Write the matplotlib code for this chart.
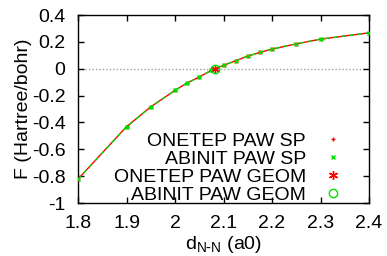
import matplotlib
matplotlib.use("Agg")
import matplotlib.pyplot as plt

plt.rcParams['font.family'] = ['Liberation Sans', 'DejaVu Sans']

# bond length (a0) and force (Hartree/bohr)
d_sp = [1.8, 1.9, 1.95, 2.0, 2.025, 2.05, 2.075, 2.1, 2.125, 2.15, 2.175, 2.2, 2.25, 2.3, 2.4]
f_onetep_sp = [-0.822, -0.432, -0.284, -0.161, -0.106, -0.062, -0.012, 0.025, 0.059, 0.094,
               0.121, 0.146, 0.185, 0.220, 0.267]
f_abinit_sp = [-0.822, -0.432, -0.284, -0.161, -0.106, -0.062, -0.012, 0.025, 0.059, 0.094,
               0.121, 0.146, 0.185, 0.220, 0.267]

d_onetep_geom = [2.082]
f_onetep_geom = [0.0]
d_abinit_geom = [2.083]
f_abinit_geom = [0.0]

FS = 14

fig = plt.figure(figsize=(3.87, 2.56), dpi=100)
ax = fig.add_axes([78 / 387, 1 - 203 / 256, 291 / 387, 188 / 256])

ax.axhline(0, color='#a0a0a0', lw=1, ls=(0, (1, 1.5)), zorder=1)

# connecting curves (no legend entries)
ax.plot(d_sp, f_onetep_sp, color='red', lw=1, zorder=2)
ax.plot(d_sp, f_abinit_sp, color='#00e000', lw=1, ls=(0, (3, 3)), zorder=3)

ax.plot(d_sp, f_onetep_sp, ls='none', marker='+', ms=3.5, mew=1, color='red',
        label='ONETEP PAW SP', zorder=4)
ax.plot(d_sp, f_abinit_sp, ls='none', marker='x', ms=3, mew=1, color='#00e000',
        label='ABINIT PAW SP', zorder=4)
ax.plot(d_onetep_geom, f_onetep_geom, ls='none', marker=(6, 2, 0), ms=6.5, mew=1,
        color='red', label='ONETEP PAW GEOM', zorder=5)
ax.plot(d_abinit_geom, f_abinit_geom, ls='none', marker='o', ms=6, mew=1,
        mfc='none', mec='#00e000', label='ABINIT PAW GEOM', zorder=5)

ax.set_xlim(1.8, 2.4)
ax.set_ylim(-1, 0.4)
ax.set_xticks([1.8, 1.9, 2.0, 2.1, 2.2, 2.3, 2.4])
ax.set_xticklabels(['1.8', '1.9', '2', '2.1', '2.2', '2.3', '2.4'])
ax.set_yticks([-1, -0.8, -0.6, -0.4, -0.2, 0, 0.2, 0.4])
ax.set_yticklabels(['-1', '-0.8', '-0.6', '-0.4', '-0.2', '0', '0.2', '0.4'])
ax.tick_params(direction='in', top=True, right=True, length=4, width=1,
               labelsize=FS, pad=9)
for s in ax.spines.values():
    s.set_linewidth(1)

ax.set_xlabel(r'd$_{\mathregular{N\text{-}N}}$ (a0)', fontsize=FS, labelpad=1)
ax.set_ylabel('F (Hartree/bohr)', fontsize=FS, labelpad=0)

leg = ax.legend(loc='lower right', bbox_to_anchor=(343 / 387, 1 - 204 / 256),
                bbox_transform=fig.transFigure, frameon=False, fontsize=FS,
                markerfirst=False, handlelength=1, handletextpad=0.9,
                labelspacing=0.02, borderpad=0, borderaxespad=0,
                alignment='right')

fig.savefig('out.png', dpi=100)
